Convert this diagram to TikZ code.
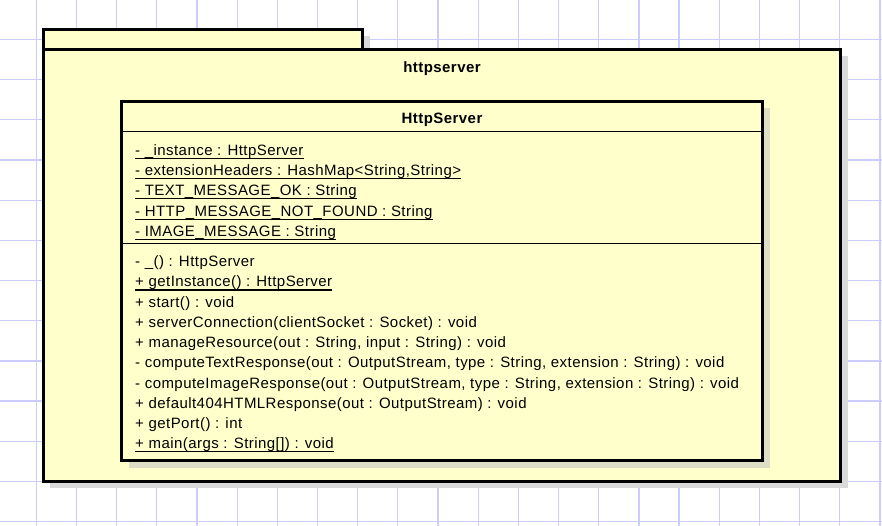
\documentclass[tikz,border=0pt]{standalone}
\usepackage{fontspec}
\setmainfont{Liberation Sans}[LetterSpace=3.0]
\definecolor{gridc}{RGB}{204,204,255}
\definecolor{umlfill}{RGB}{255,255,204}
\definecolor{shadw}{RGB}{217,217,217}
\definecolor{shadc}{RGB}{222,222,198}
\begin{document}
\begin{tikzpicture}[x=1pt,y=-1pt,
  txt/.style={anchor=base west, inner sep=0pt, font=\fontsize{15}{18}\selectfont},
  ttl/.style={anchor=base, inner sep=0pt, font=\fontsize{15}{18}\selectfont\bfseries},
  ul/.style={line width=1.1pt},
  box/.style={draw=black, line width=3pt, fill=umlfill},
  sep/.style={draw=black, line width=1.4pt}]
\useasboundingbox (0,0) rectangle (882,526);
\fill[white] (0,0) rectangle (882,526);
\foreach \i in {0,...,21} \draw[gridc, line width=1.3pt] ({36.3+40.17*\i},0) -- ++(0,526);
\foreach \j in {-1,...,12} \draw[gridc, line width=1.3pt] (0,{39.5+40.17*\j}) -- ++(882,0);
% package shadow
\fill[shadw] (50,36) rectangle (369.5,56);
\fill[shadw] (50,56) rectangle (847.5,488);
% package
\path[box] (43.5,29.3) rectangle (362.3,49.3);
\path[box] (43.5,49.3) rectangle (840,481);
\node[ttl] (pkg) at (442,73) {httpserver};
% class shadow
\fill[shadc] (128.5,108.5) rectangle (769.5,467.5);
% class
\path[box] (121.5,101.5) rectangle (762.5,460.5);
\draw[sep] (121.5,131.5) -- (762.5,131.5);
\draw[sep] (121.5,243.5) -- (762.5,243.5);
\node[ttl] (cls) at (442,123.3) {HttpServer};
% attributes
\node[txt] (a1) at (135,155.3) {- \_instance : HttpServer};
\node[txt] (a2) at (135,175.6) {- extensionHeaders : HashMap<String,String>};
\node[txt] (a3) at (135,195.9) {- TEXT\_MESSAGE\_OK : String};
\node[txt] (a4) at (135,216.2) {- HTTP\_MESSAGE\_NOT\_FOUND : String};
\node[txt] (a5) at (135,236.5) {- IMAGE\_MESSAGE : String};
\foreach \n in {a1,a2,a3,a4,a5} \draw[ul] ([yshift=-3pt]\n.base west) -- ([yshift=-3pt]\n.base east);
% methods
\node[txt] (m1) at (135,266.8) {- \_() : HttpServer};
\node[txt] (m2) at (135,287.0) {+ getInstance() : HttpServer};
\node[txt] (m3) at (135,307.2) {+ start() : void};
\node[txt] (m4) at (135,327.4) {+ serverConnection(clientSocket : Socket) : void};
\node[txt] (m5) at (135,347.6) {+ manageResource(out : String, input : String) : void};
\node[txt] (m6) at (135,367.8) {- computeTextResponse(out : OutputStream, type : String, extension : String) : void};
\node[txt] (m7) at (135,388.0) {- computeImageResponse(out : OutputStream, type : String, extension : String) : void};
\node[txt] (m8) at (135,408.2) {+ default404HTMLResponse(out : OutputStream) : void};
\node[txt] (m9) at (135,428.4) {+ getPort() : int};
\node[txt] (m10) at (135,448.6) {+ main(args : String[]) : void};
\foreach \n in {m2,m10} \draw[ul] ([yshift=-3pt]\n.base west) -- ([yshift=-3pt]\n.base east);
\end{tikzpicture}
\end{document}
